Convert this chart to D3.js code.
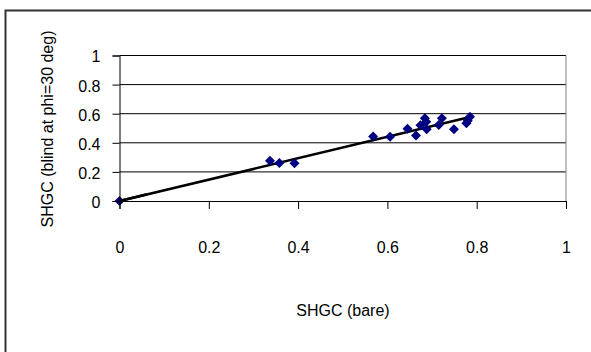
<!DOCTYPE html>
<meta charset="utf-8">
<script src="https://d3js.org/d3.v7.min.js"></script>
<style>
body { margin: 0; background: #fff; }
text { font-family: "Liberation Sans", Arial, sans-serif; fill: #000; }
</style>
<svg id="vis" width="591" height="352"></svg>
<script>
// SHGC bare vs SHGC with blind at phi = 30 deg
var bareX = [0, 0.337, 0.358, 0.392, 0.568, 0.606, 0.645, 0.664, 0.674, 0.684, 0.687, 0.688, 0.715, 0.722, 0.749, 0.777, 0.780, 0.785];
var blindY = [0, 0.277, 0.262, 0.260, 0.444, 0.442, 0.497, 0.450, 0.520, 0.568, 0.545, 0.493, 0.522, 0.568, 0.493, 0.534, 0.552, 0.579];

// trend line end points
var trendX = [0, 0.785];
var trendY = [0, 0.577];

var tickVals = [0, 0.2, 0.4, 0.6, 0.8, 1];

var svg = d3.select("#vis");

// outer chart frame (runs off the bottom and right)
svg.append("rect")
  .attr("x", 5.5).attr("y", 10.5)
  .attr("width", 600).attr("height", 400)
  .attr("fill", "none")
  .attr("stroke", "#333")
  .attr("stroke-width", 2);

var x = d3.scaleLinear().domain([0, 1]).range([119.5, 566]);
var y = d3.scaleLinear().domain([0, 1]).range([201, 55.5]);

var g = svg.append("g");

// horizontal gridlines
g.selectAll("line.grid")
  .data(tickVals.slice(1))
  .enter().append("line")
  .attr("class", "grid")
  .attr("x1", x(0)).attr("x2", x(1))
  .attr("y1", d => y(d)).attr("y2", d => y(d))
  .attr("stroke", "#000").attr("stroke-width", 1);

// right edge of plot area
g.append("line")
  .attr("x1", x(1)).attr("x2", x(1))
  .attr("y1", y(1)).attr("y2", y(0))
  .attr("stroke", "#808080").attr("stroke-width", 1);

// y axis
var yAxis = d3.axisLeft(y).tickValues(tickVals).tickFormat(d3.format("")).tickSize(7).tickPadding(12);
var ya = svg.append("g").attr("transform", "translate(" + x(0) + ",0)").call(yAxis);

// x axis
var xAxis = d3.axisBottom(x).tickValues(tickVals).tickFormat(d3.format("")).tickSize(8).tickPadding(33);
var xa = svg.append("g").attr("transform", "translate(0," + y(0) + ")").call(xAxis);

[ya, xa].forEach(function(a) {
  a.select(".domain").attr("stroke", "#000");
  a.selectAll(".tick line").attr("stroke", "#000");
  a.selectAll("text").style("font-size", "16px").attr("fill", "#000")
    .style("font-family", "'Liberation Sans', Arial, sans-serif");
});
ya.selectAll("text").attr("dy", "0.4em");

// trend line
g.append("line")
  .attr("x1", x(trendX[0])).attr("y1", y(trendY[0]))
  .attr("x2", x(trendX[1])).attr("y2", y(trendY[1]))
  .attr("stroke", "#000").attr("stroke-width", 2.6);

// diamond markers
var pts = bareX.map((v, i) => [v, blindY[i]]);
g.selectAll("path.pt")
  .data(pts)
  .enter().append("path")
  .attr("class", "pt")
  .attr("d", d => {
    var cx = x(d[0]), cy = y(d[1]), r = 5;
    return "M" + cx + "," + (cy - r) + "L" + (cx + r) + "," + cy + "L" + cx + "," + (cy + r) + "L" + (cx - r) + "," + cy + "Z";
  })
  .attr("fill", "#000080");

// trend line start drawn over the origin marker as in reference
g.append("line")
  .attr("x1", x(trendX[0])).attr("y1", y(trendY[0]))
  .attr("x2", x(0.06)).attr("y2", y(0.06 * trendY[1] / trendX[1]))
  .attr("stroke", "#000").attr("stroke-width", 2.6);

// axis titles
svg.append("text")
  .attr("x", 343).attr("y", 316)
  .attr("text-anchor", "middle")
  .style("font-size", "16px")
  .text("SHGC (bare)");

svg.append("text")
  .attr("transform", "translate(53,129) rotate(-90)")
  .attr("text-anchor", "middle")
  .style("font-size", "16px")
  .text("SHGC (blind at phi=30 deg)");
</script>
